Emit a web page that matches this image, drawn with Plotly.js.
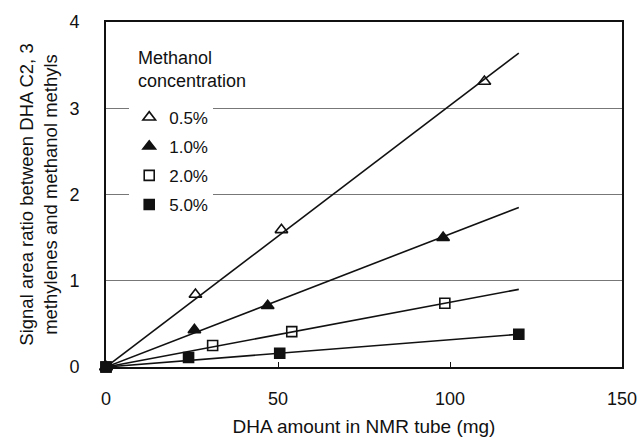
<!DOCTYPE html>
<html>
<head>
<meta charset="utf-8">
<script src="https://cdn.plot.ly/plotly-3.0.1.min.js"></script>
<style>html,body{margin:0;padding:0;background:#fff;}#chart{width:642px;height:437px;}</style>
</head>
<body>
<div id="chart"></div>
<script>
// Data
const seriesNames = ["0.5%", "1.0%", "2.0%", "5.0%"];
const x05 = [0, 26, 51, 110];
const y05 = [0, 0.84, 1.59, 3.31];
const x10 = [0, 25.7, 47, 98];
const y10 = [0, 0.43, 0.71, 1.50];
const x20 = [0, 31, 54, 98.5];
const y20 = [0, 0.25, 0.41, 0.74];
const x50 = [0, 24, 50.5, 120];
const y50 = [0, 0.11, 0.16, 0.38];
// Linear fit lines (through origin), drawn from 0 to 120 mg
const xFit = [0, 120];
const yFit05 = [0, 3.64];
const yFit10 = [0, 1.85];
const yFit20 = [0, 0.90];
const yFit50 = [0, 0.38];
const xTicks = [0, 50, 100, 150];
const yTicks = [0, 1, 2, 3, 4];

const FONT = "Liberation Sans, Arial, sans-serif";
const fits = [yFit05, yFit10, yFit20, yFit50];
const pts = [[x05, y05], [x10, y10], [x20, y20], [x50, y50]];
const symbols = ["triangle-up-open", "triangle-up", "square-open", "square"];
const sizes = [11, 11, 10, 10];

const traces = [];
fits.forEach((yf) => {
  traces.push({
    x: xFit, y: yf, mode: "lines", type: "scatter",
    line: {color: "#111", width: 1.6}, showlegend: false, hoverinfo: "skip", cliponaxis: false
  });
});
pts.forEach((p, i) => {
  traces.push({
    x: p[0], y: p[1], mode: "markers", type: "scatter", name: seriesNames[i],
    legendgroup: "g" + i,
    marker: {symbol: symbols[i], size: sizes[i], color: "#111", line: {color: "#111", width: 1.6}},
    cliponaxis: false
  });
});

const layout = {
  width: 642, height: 437,
  margin: {l: 106, r: 20, t: 22, b: 70},
  paper_bgcolor: "#fff", plot_bgcolor: "#fff",
  font: {family: FONT, size: 18, color: "#111"},
  showlegend: true,
  legend: {
    x: 0.045, y: 0.775, xanchor: "left", yanchor: "top",
    bgcolor: "#fff", borderwidth: 0,
    font: {family: FONT, size: 17, color: "#111"},
    itemwidth: 30, tracegroupgap: 4
  },
  xaxis: {
    range: [0, 150], tickvals: xTicks, ticktext: xTicks.map(String),
    showgrid: false, zeroline: false,
    showline: true, linecolor: "#111", linewidth: 2, mirror: true,
    ticks: "inside", ticklen: 5, tickcolor: "#111",
    ticklabelstandoff: 14,
    tickfont: {family: FONT, size: 18, color: "#111"},
    title: {text: "DHA amount in NMR tube (mg)", font: {family: FONT, size: 19, color: "#111"}, standoff: 14}
  },
  yaxis: {
    range: [0, 4], tickvals: yTicks, ticktext: yTicks.map(String),
    showgrid: true, gridcolor: "#777", gridwidth: 1, zeroline: false,
    showline: true, linecolor: "#111", linewidth: 2, mirror: true,
    ticks: "", ticklabelstandoff: 21,
    tickfont: {family: FONT, size: 18, color: "#111"},
    title: {text: "Signal area ratio between DHA C2, 3<br>methylenes and methanol methyls", font: {family: FONT, size: 18.5, color: "#111"}, standoff: 7}
  },
  annotations: [{
    text: "Methanol<br>concentration", xref: "paper", yref: "paper",
    x: 0.058, y: 0.862, xanchor: "left", yanchor: "middle", align: "left",
    showarrow: false, font: {family: FONT, size: 18, color: "#111"}
  }]
};

Plotly.newPlot("chart", traces, layout, {displayModeBar: false, staticPlot: true});
</script>
</body>
</html>
